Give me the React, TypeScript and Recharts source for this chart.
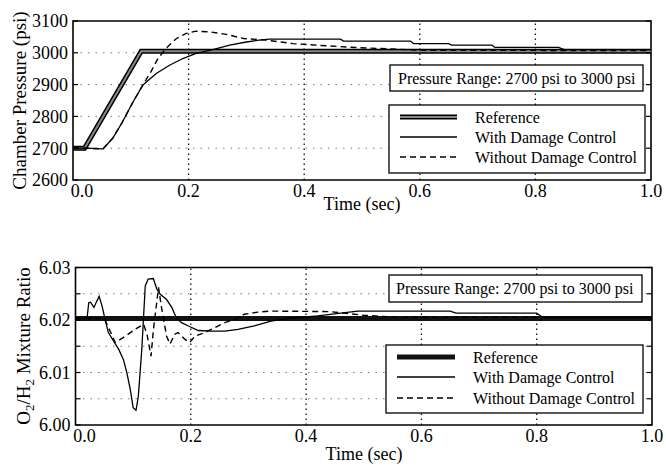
import React from "react";
import { LineChart, Line, XAxis, YAxis, ReferenceLine, ReferenceArea } from "recharts";

const FONT = '"Liberation Serif", "DejaVu Serif", serif';
const TXT: React.CSSProperties = { fontFamily: FONT };

// ---------- shared ----------
const timeTicks = [0, 0.2, 0.4, 0.6, 0.8, 1.0];

// ---------- top chart: chamber pressure ----------
const pressureTicks = [2600, 2700, 2800, 2900, 3000, 3100];
const pRefT = [0, 0.02, 0.118, 1.0];
const pRefV = [2700, 2700, 3005, 3005];
const pWithT = [0, 0.02, 0.052, 0.069, 0.086, 0.104, 0.121, 0.144, 0.167, 0.19, 0.213, 0.242, 0.271, 0.3, 0.322, 0.34, 0.463, 0.468, 0.584, 0.589, 0.65, 0.655, 0.725, 0.73, 0.84, 0.85, 1.0];
const pWithV = [2700, 2700, 2698, 2732, 2784, 2846, 2899, 2935, 2961, 2982, 2998, 3010, 3024, 3034, 3040, 3043, 3043, 3037, 3037, 3029, 3029, 3024, 3024, 3017, 3017, 3010, 3010];
const pWithoutT = [0, 0.02, 0.052, 0.069, 0.086, 0.104, 0.121, 0.135, 0.147, 0.161, 0.179, 0.196, 0.213, 0.236, 0.265, 0.295, 0.334, 0.38, 0.438, 0.495, 0.552, 0.6, 1.0];
const pWithoutV = [2700, 2700, 2698, 2732, 2784, 2846, 2899, 2941, 2982, 3014, 3045, 3061, 3068, 3066, 3058, 3045, 3040, 3029, 3022, 3016, 3012, 3008, 3007];

// ---------- bottom chart: O2/H2 mixture ratio ----------
const ratioTicks = [6.0, 6.005, 6.01, 6.015, 6.02, 6.025, 6.03];
const rRefT = [0, 1.0];
const rRefV = [6.0203, 6.0203];
const rWithT = [0, 0.02, 0.023, 0.026, 0.032, 0.037, 0.041, 0.046, 0.052, 0.057, 0.066, 0.075, 0.083, 0.089, 0.095, 0.1, 0.105, 0.109, 0.115, 0.121, 0.126, 0.135, 0.141, 0.147, 0.158, 0.167, 0.175, 0.184, 0.195, 0.213, 0.236, 0.259, 0.282, 0.31, 0.339, 0.37, 0.42, 0.46, 0.49, 0.65, 0.66, 0.8, 0.81, 1.0];
const rWithV = [6.0203, 6.0203, 6.0233, 6.0234, 6.0224, 6.0236, 6.0245, 6.0227, 6.0198, 6.0176, 6.016, 6.0144, 6.0125, 6.01, 6.0068, 6.0033, 6.0028, 6.0055, 6.0144, 6.0265, 6.0278, 6.0279, 6.0259, 6.0249, 6.0239, 6.0224, 6.0204, 6.0195, 6.0189, 6.018, 6.0179, 6.0179, 6.0182, 6.0189, 6.0198, 6.0203, 6.0208, 6.0213, 6.0217, 6.0217, 6.0213, 6.0213, 6.0205, 6.0205];
const rWithoutT = [0, 0.05, 0.069, 0.086, 0.103, 0.118, 0.124, 0.131, 0.135, 0.144, 0.149, 0.158, 0.164, 0.172, 0.178, 0.19, 0.198, 0.207, 0.224, 0.241, 0.259, 0.276, 0.293, 0.316, 0.339, 0.44, 0.5, 0.56, 1.0];
const rWithoutV = [6.0203, 6.0203, 6.0157, 6.0169, 6.0182, 6.0192, 6.0173, 6.0131, 6.018, 6.0262, 6.0225, 6.0169, 6.0154, 6.0173, 6.0176, 6.0163, 6.0157, 6.0169, 6.0176, 6.0185, 6.0195, 6.0201, 6.0211, 6.0215, 6.0217, 6.0216, 6.0209, 6.0205, 6.0205];

const legendLabels = ["Reference", "With Damage Control", "Without Damage Control"];
const noteText = "Pressure Range: 2700 psi to 3000 psi";

const zip = (ts: number[], vs: number[]) => ts.map((t, i) => ({ t, v: vs[i] }));

const XTick = (props: any) => {
  const { x, y, payload } = props;
  const dx = payload.value === 0 ? 9 : 0;
  return (
    <text x={x + dx} y={y} dy="0.71em" textAnchor="middle" fontSize={18} style={TXT} fill="#000">
      {Number(payload.value).toFixed(1)}
    </text>
  );
};

const makeYTick = (plotW: number, fmt: (v: number) => string) => (props: any) => {
  const { x, y, payload } = props;
  const left = x + 5;
  return (
    <g>
      <text x={x} y={y} dy="0.35em" textAnchor="end" fontSize={18} style={TXT} fill="#000">
        {fmt(payload.value)}
      </text>
      <line x1={left} x2={left + 5} y1={y} y2={y} stroke="#000" strokeWidth={1.2} />
      <line x1={left + plotW - 5} x2={left + plotW} y1={y} y2={y} stroke="#000" strokeWidth={1.2} />
    </g>
  );
};

const Legend = ({ x, y, w, h, rows, sx1, sx2, tx, topStyle }: any) => (
  <g>
    <rect x={x} y={y} width={w} height={h} fill="#fff" stroke="#000" strokeWidth={1.3} />
    {topStyle ? (
      <g>
        <line x1={sx1} x2={sx2} y1={rows[0]} y2={rows[0]} stroke="#000" strokeWidth={5} />
        <line x1={sx1} x2={sx2} y1={rows[0]} y2={rows[0]} stroke="#888" strokeWidth={2} />
      </g>
    ) : (
      <line x1={sx1} x2={sx2} y1={rows[0]} y2={rows[0]} stroke="#111" strokeWidth={5} />
    )}
    <line x1={sx1} x2={sx2} y1={rows[1]} y2={rows[1]} stroke="#000" strokeWidth={1.3} />
    <line x1={sx1} x2={sx2} y1={rows[2]} y2={rows[2]} stroke="#000" strokeWidth={1.3} strokeDasharray="6 4" />
    {legendLabels.map((l, i) => (
      <text key={l} x={tx} y={rows[i]} dy="0.35em" fontSize={16} style={TXT} fill="#000">
        {l}
      </text>
    ))}
  </g>
);

const Note = ({ x, y, w, h, tx }: any) => (
  <g>
    <rect x={x} y={y} width={w} height={h} fill="#fff" stroke="#000" strokeWidth={1.3} />
    <text x={tx} y={y + h / 2} dy="0.35em" fontSize={16} style={TXT} fill="#000">
      {noteText}
    </text>
  </g>
);

const TOP_PW = 578;
const BOT_PW = 576.5;

export default function App() {
  const hGrid = { stroke: "#777", strokeDasharray: "1.5 6", strokeWidth: 1 };
  const vGrid = { stroke: "#111", strokeDasharray: "1.5 3.5", strokeWidth: 1.3 };
  return (
    <div style={{ position: "absolute", left: 0, top: 0, width: 666, height: 468, background: "#fff", fontFamily: FONT }}>
      <div style={{ position: "absolute", left: 0, top: 0 }}>
        <LineChart width={666} height={230} margin={{ top: 21, right: 15, bottom: 20, left: 0 }}>
          <XAxis dataKey="t" type="number" domain={[0, 1]} ticks={timeTicks} interval={0} allowDataOverflow
            tick={(p: any) => <XTick {...p} />} tickLine={false} axisLine={false} tickSize={4} tickMargin={0} height={30} />
          <YAxis type="number" domain={[2600, 3100]} ticks={pressureTicks} interval={0} allowDataOverflow width={73}
            tick={makeYTick(TOP_PW, (v) => String(v))} tickLine={false} axisLine={false} tickSize={3} tickMargin={2} />
          {pressureTicks.slice(1, -1).map((v) => (
            <ReferenceLine key={"h" + v} y={v} {...hGrid} />
          ))}
          {timeTicks.slice(1, -1).map((v) => (
            <ReferenceLine key={"v" + v} x={v} {...vGrid} />
          ))}
          <ReferenceArea x1={0} x2={1} y1={2600} y2={3100} fill="none" fillOpacity={0} stroke="#000" strokeWidth={1.6} />
          <Line data={zip(pRefT, pRefV)} dataKey="v" type="linear" stroke="#000" strokeWidth={5} dot={false} isAnimationActive={false} />
          <Line data={zip(pRefT, pRefV)} dataKey="v" type="linear" stroke="#888" strokeWidth={2} dot={false} isAnimationActive={false} />
          <Line data={zip(pWithT, pWithV)} dataKey="v" type="linear" stroke="#000" strokeWidth={1.3} dot={false} isAnimationActive={false} />
          <Line data={zip(pWithoutT, pWithoutV)} dataKey="v" type="linear" stroke="#000" strokeWidth={1.4} strokeDasharray="6 4" dot={false} isAnimationActive={false} />
        </LineChart>
      </div>
      <div style={{ position: "absolute", left: 0, top: 240 }}>
        <LineChart width={666} height={228} margin={{ top: 27.5, right: 14, bottom: 13, left: 0 }}>
          <XAxis dataKey="t" type="number" domain={[0, 1]} ticks={timeTicks} interval={0} allowDataOverflow
            tick={(p: any) => <XTick {...p} />} tickLine={false} axisLine={false} tickSize={4} tickMargin={0} height={30} />
          <YAxis type="number" domain={[6.0, 6.03]} ticks={ratioTicks} interval={0} allowDataOverflow width={75.5}
            tick={makeYTick(BOT_PW, (v) => (Math.round(v * 1000) % 10 === 0 ? v.toFixed(2) : ""))}
            tickLine={false} axisLine={false} tickSize={3} tickMargin={2} />
          {ratioTicks.slice(1, -1).map((v) => (
            <ReferenceLine key={"h" + v} y={v} {...hGrid} />
          ))}
          {timeTicks.slice(1, -1).map((v) => (
            <ReferenceLine key={"v" + v} x={v} {...vGrid} />
          ))}
          <ReferenceArea x1={0} x2={1} y1={6.0} y2={6.03} fill="none" fillOpacity={0} stroke="#000" strokeWidth={1.6} />
          <Line data={zip(rRefT, rRefV)} dataKey="v" type="linear" stroke="#111" strokeWidth={5} dot={false} isAnimationActive={false} />
          <Line data={zip(rWithT, rWithV)} dataKey="v" type="linear" stroke="#000" strokeWidth={1.3} dot={false} isAnimationActive={false} />
          <Line data={zip(rWithoutT, rWithoutV)} dataKey="v" type="linear" stroke="#000" strokeWidth={1.4} strokeDasharray="6 4" dot={false} isAnimationActive={false} />
        </LineChart>
      </div>
      <svg width={666} height={468} style={{ position: "absolute", left: 0, top: 0, pointerEvents: "none" }}>
        <text transform="rotate(-90 19 100.5)" x={19} y={100.5} dy="0.35em" textAnchor="middle" fontSize={19} style={TXT} fill="#000">
          Chamber Pressure (psi)
        </text>
        <text x={362} y={204} dy="0.35em" textAnchor="middle" fontSize={18} style={TXT} fill="#000">
          Time (sec)
        </text>
        <text transform="rotate(-90 23 346)" x={23} y={346} dy="0.35em" textAnchor="middle" fontSize={19} style={TXT} fill="#000">
          O<tspan dy="4" fontSize={13}>2</tspan>
          <tspan dy="-4">/H</tspan>
          <tspan dy="4" fontSize={13}>2</tspan>
          <tspan dy="-4"> Mixture Ratio</tspan>
        </text>
        <text x={364} y={454} dy="0.35em" textAnchor="middle" fontSize={18} style={TXT} fill="#000">
          Time (sec)
        </text>
        <Note x={390} y={65} w={253} h={26} tx={398} />
        <Legend x={389} y={105} w={256} h={68} rows={[117, 137, 157]} sx1={400} sx2={457} tx={475} topStyle />
        <Note x={389} y={275} w={253} h={27} tx={396} />
        <Legend x={386} y={345} w={257} h={68} rows={[357, 377, 398]} sx1={397} sx2={455} tx={473} />
      </svg>
    </div>
  );
}
